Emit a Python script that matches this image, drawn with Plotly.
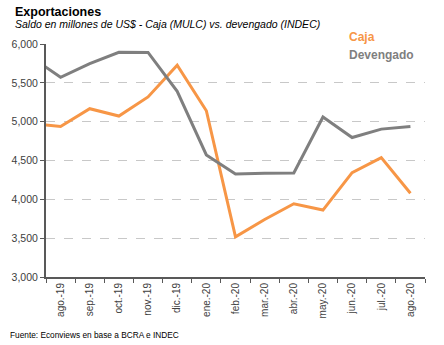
import plotly.graph_objects as go

# Monthly export series, millions of US$ (jul.-19 only feeds the line entering the left edge)
months = ["jul.-19", "ago.-19", "sep.-19", "oct.-19", "nov.-19", "dic.-19", "ene.-20",
          "feb.-20", "mar.-20", "abr.-20", "may.-20", "jun.-20", "jul.-20", "ago.-20"]
caja = [4975, 4938, 5167, 5072, 5318, 5726, 5141, 3517, 3740, 3943, 3862, 4344, 4537, 4078]
devengado = [5830, 5571, 5748, 5894, 5892, 5390, 4572, 4327, 4336, 4340, 5059, 4796, 4904, 4938]
y_ticks = [3000, 3500, 4000, 4500, 5000, 5500, 6000]

series_names = ["Caja", "Devengado"]
colors = ["#F79646", "#7F7F7F"]
FONT = "Liberation Sans"

fig = go.Figure()
for name, vals, col in zip(series_names, [caja, devengado], colors):
    fig.add_trace(go.Scatter(x=months, y=vals, mode="lines", name=name,
                             line=dict(color=col, width=3)))

fig.update_layout(
    width=444, height=345,
    margin=dict(l=46, r=19, t=44, b=68),
    paper_bgcolor="white", plot_bgcolor="white",
    showlegend=False,
    font=dict(family=FONT, color="#404040", size=10),
)

fig.update_xaxes(
    type="category", categoryorder="array", categoryarray=months,
    range=[0.5, len(months) - 0.5],
    tickson="boundaries", ticks="outside", ticklen=4, tickcolor="#595959", tickwidth=1,
    tickangle=-90, tickfont=dict(size=10, color="#404040", family=FONT),
    showline=True, linecolor="#595959", linewidth=2,
    showgrid=False, zeroline=False,
)
fig.update_yaxes(
    range=[3000, 6000], tickvals=y_ticks,
    ticktext=[f"{v:,}" for v in y_ticks],
    ticks="outside", ticklen=4, tickcolor="#595959",
    tickfont=dict(size=10.5, color="#404040", family=FONT),
    showline=True, linecolor="#595959", linewidth=2,
    showgrid=True, gridcolor="#C8C8C8", griddash="dash", gridwidth=1,
    zeroline=False,
)

# Title and subtitle
fig.add_annotation(text="<b>Exportaciones</b>", xref="paper", yref="paper",
                   x=-0.087, y=1.0, yshift=32, xanchor="left", yanchor="middle",
                   showarrow=False, font=dict(size=12.5, color="#000000", family=FONT))
fig.add_annotation(text="<i>Saldo en millones de US$ - Caja (MULC) vs. devengado (INDEC)</i>",
                   xref="paper", yref="paper", x=-0.087, y=1.0, yshift=20,
                   xanchor="left", yanchor="middle", showarrow=False,
                   font=dict(size=10.5, color="#000000", family=FONT))

# Series labels
for i, (name, col) in enumerate(zip(series_names, colors)):
    fig.add_annotation(text=f"<b>{name}</b>", xref="paper", yref="paper",
                       x=0.795, y=1.0, yshift=7 - 18 * i, xanchor="left", yanchor="middle",
                       showarrow=False, bgcolor="white" if i else None,
                       font=dict(size=12, color=col, family=FONT))

# Source note
fig.add_annotation(text="Fuente: Econviews en base a BCRA e INDEC", xref="paper", yref="paper",
                   x=-0.1, y=0, yshift=-58, xanchor="left", yanchor="middle",
                   showarrow=False, font=dict(size=8.3, color="#000000", family=FONT))

fig.write_html("out.html")
